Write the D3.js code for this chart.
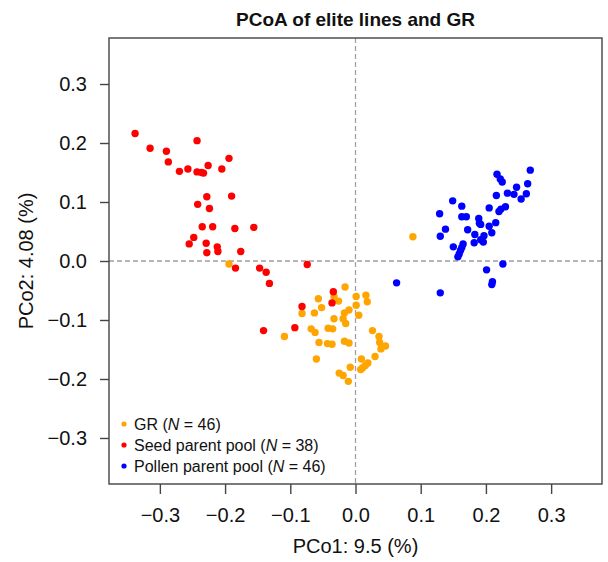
<!DOCTYPE html>
<html>
<head>
<meta charset="utf-8">
<script src="https://cdn.jsdelivr.net/npm/d3@7"></script>
<style>
  body { margin: 0; background: #fff; }
  text { font-family: "Liberation Sans", Arial, sans-serif; }
</style>
</head>
<body>
<svg id="chart" width="608" height="562"></svg>
<script>
// PCoA coordinates, [PCo1, PCo2]
var gr = [
  [-0.194, -0.005], [0.088, 0.041],
  [-0.016, -0.044], [0.001, -0.060], [0.016, -0.058], [0.018, -0.069], [-0.057, -0.064],
  [-0.026, -0.068], [-0.033, -0.060], [0.001, -0.075], [-0.082, -0.089], [-0.063, -0.088],
  [-0.052, -0.079], [-0.010, -0.083], [-0.017, -0.088], [0.005, -0.092], [-0.019, -0.098],
  [-0.033, -0.098], [-0.015, -0.106], [-0.068, -0.115], [-0.062, -0.121], [-0.042, -0.114],
  [-0.035, -0.115], [-0.109, -0.128], [0.026, -0.118], [0.036, -0.128], [-0.056, -0.138],
  [-0.043, -0.140], [-0.036, -0.141], [-0.017, -0.136], [-0.010, -0.139], [0.037, -0.138],
  [0.039, -0.149], [0.046, -0.144], [-0.060, -0.166], [0.009, -0.166], [0.030, -0.162],
  [0.019, -0.173], [0.015, -0.177], [0.011, -0.181], [0.008, -0.184], [-0.008, -0.180],
  [-0.025, -0.190], [-0.019, -0.194], [-0.011, -0.204]
];
var seed = [
  [-0.338, 0.216], [-0.315, 0.191], [-0.290, 0.186], [-0.287, 0.168], [-0.243, 0.204],
  [-0.270, 0.152], [-0.257, 0.156], [-0.243, 0.151], [-0.233, 0.149], [-0.236, 0.150],
  [-0.226, 0.162], [-0.205, 0.156], [-0.194, 0.174], [-0.228, 0.109], [-0.190, 0.110],
  [-0.242, 0.096], [-0.224, 0.089], [-0.235, 0.058], [-0.219, 0.058], [-0.185, 0.055],
  [-0.156, 0.057], [-0.248, 0.040], [-0.255, 0.029], [-0.229, 0.030], [-0.212, 0.024],
  [-0.211, 0.016], [-0.228, 0.014], [-0.176, 0.016], [-0.184, -0.012], [-0.147, -0.012],
  [-0.137, -0.019], [-0.132, -0.038], [-0.074, -0.006], [-0.034, -0.052], [-0.036, -0.071],
  [-0.082, -0.077], [-0.093, -0.113], [-0.141, -0.118]
];
var pollen = [
  [0.217, 0.147], [0.222, 0.139], [0.225, 0.134], [0.268, 0.154], [0.264, 0.131],
  [0.247, 0.125], [0.233, 0.115], [0.243, 0.113], [0.262, 0.114], [0.254, 0.105],
  [0.216, 0.111], [0.149, 0.102], [0.163, 0.093], [0.205, 0.090], [0.230, 0.092],
  [0.223, 0.088], [0.220, 0.084], [0.129, 0.080], [0.163, 0.075], [0.170, 0.075],
  [0.189, 0.072], [0.190, 0.064], [0.192, 0.062], [0.215, 0.065], [0.205, 0.059],
  [0.138, 0.054], [0.172, 0.053], [0.209, 0.048], [0.130, 0.042], [0.183, 0.045],
  [0.197, 0.043], [0.192, 0.036], [0.182, 0.031], [0.196, 0.032], [0.165, 0.029],
  [0.150, 0.024], [0.163, 0.023], [0.161, 0.018], [0.159, 0.012], [0.157, 0.007],
  [0.226, -0.005], [0.201, -0.015], [0.210, -0.035], [0.209, -0.040], [0.063, -0.037],
  [0.130, -0.054]
];
var ticks = [-0.3, -0.2, -0.1, 0.0, 0.1, 0.2, 0.3];
var groups = [
  { name: "GR", n: 46, color: "#FFA500", pts: gr },
  { name: "Seed parent pool", n: 38, color: "#FF0000", pts: seed },
  { name: "Pollen parent pool", n: 46, color: "#0000FF", pts: pollen }
];

var box = { left: 109, right: 602, top: 38, bottom: 484 };
var svg = d3.select("#chart");

var x = d3.scaleLinear().domain([-0.378, 0.378]).range([box.left, box.right]);
var y = d3.scaleLinear().domain([-0.378, 0.378]).range([box.bottom, box.top]);
var fmt = d3.format(".1f");

// reference lines at zero
svg.append("line")
  .attr("x1", x(0)).attr("x2", x(0)).attr("y1", box.top).attr("y2", box.bottom)
  .attr("stroke", "#a0a0a0").attr("stroke-width", 1.3).attr("stroke-dasharray", "5,3");
svg.append("line")
  .attr("x1", box.left).attr("x2", box.right).attr("y1", y(0)).attr("y2", y(0))
  .attr("stroke", "#a0a0a0").attr("stroke-width", 1.3).attr("stroke-dasharray", "5,3");

// points
groups.forEach(function(g){
  svg.append("g").selectAll("circle").data(g.pts).enter().append("circle")
    .attr("cx", function(d){ return x(d[0]); })
    .attr("cy", function(d){ return y(d[1]); })
    .attr("r", 3.7)
    .attr("fill", g.color);
});

// frame
svg.append("rect")
  .attr("x", box.left).attr("y", box.top)
  .attr("width", box.right - box.left).attr("height", box.bottom - box.top)
  .attr("fill", "none").attr("stroke", "#444").attr("stroke-width", 1.4);

// axes
var xAxis = svg.append("g")
  .attr("transform", "translate(0," + box.bottom + ")")
  .call(d3.axisBottom(x).tickValues(ticks).tickFormat(fmt).tickSize(10).tickPadding(14));
var yAxis = svg.append("g")
  .attr("transform", "translate(" + box.left + ",0)")
  .call(d3.axisLeft(y).tickValues(ticks).tickFormat(fmt).tickSize(9).tickPadding(13));
[xAxis, yAxis].forEach(function(a){
  a.select(".domain").remove();
  a.selectAll(".tick line").attr("stroke", "#444").attr("stroke-width", 1.4);
  a.selectAll(".tick text").attr("font-size", 20).attr("fill", "#111")
    .style("font-family", '"Liberation Sans", Arial, sans-serif');
});

// titles
svg.append("text")
  .attr("x", (box.left + box.right) / 2).attr("y", 26)
  .attr("text-anchor", "middle").attr("font-size", 19).attr("font-weight", "bold")
  .attr("fill", "#111")
  .text("PCoA of elite lines and GR");
svg.append("text")
  .attr("x", (box.left + box.right) / 2).attr("y", 553)
  .attr("text-anchor", "middle").attr("font-size", 20).attr("fill", "#111")
  .text("PCo1: 9.5 (%)");
svg.append("text")
  .attr("transform", "translate(33," + y(0) + ") rotate(-90)")
  .attr("text-anchor", "middle").attr("font-size", 20).attr("fill", "#111")
  .text("PCo2: 4.08 (%)");

// legend
var legend = svg.append("g");
groups.forEach(function(g, i){
  var ly = 424 + i * 21;
  legend.append("circle").attr("cx", 124).attr("cy", ly).attr("r", 2.6).attr("fill", g.color);
  var t = legend.append("text").attr("x", 134).attr("y", ly)
    .attr("dy", "0.35em").attr("font-size", 16).attr("fill", "#111");
  t.append("tspan").text(g.name + " (");
  t.append("tspan").attr("font-style", "italic").text("N");
  t.append("tspan").text(" = " + g.n + ")");
});
</script>
</body>
</html>
